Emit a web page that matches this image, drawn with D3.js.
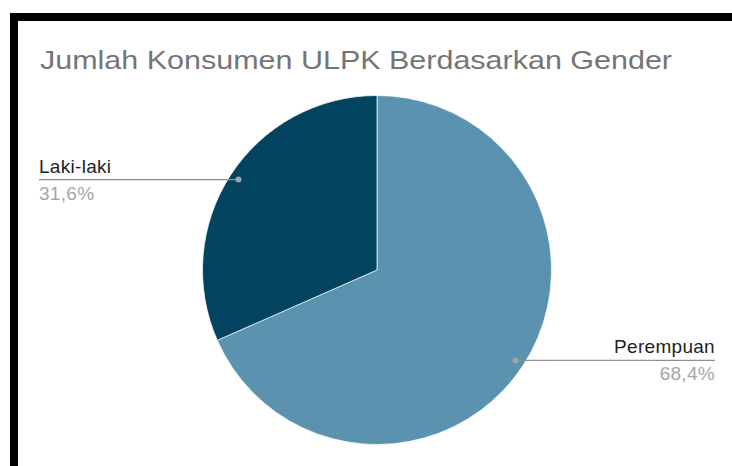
<!DOCTYPE html>
<html>
<head>
<meta charset="utf-8">
<script src="https://cdn.jsdelivr.net/npm/d3@7"></script>
<style>
  html, body { margin: 0; padding: 0; background: #fff; }
  svg { display: block; }
</style>
</head>
<body>
<svg id="chart" width="732" height="466"></svg>
<script>
const title = "Jumlah Konsumen ULPK Berdasarkan Gender";
const categories = ["Perempuan", "Laki-laki"];
const percentages = [68.4, 31.6];
const colors = ["#5a92b0", "#02445f"];

const W = 732, H = 466;
const FONT = "'Liberation Sans', Arial, sans-serif";
const svg = d3.select("#chart");

// frame (black border top and left)
svg.append("rect").attr("x", 10).attr("y", 13).attr("width", W - 10).attr("height", 8).attr("fill", "#000");
svg.append("rect").attr("x", 10).attr("y", 13).attr("width", 8).attr("height", H - 13).attr("fill", "#000");

svg.append("text")
  .attr("x", 40).attr("y", 69)
  .attr("font-family", FONT)
  .attr("font-size", 25.5)
  .attr("textLength", 632)
  .attr("lengthAdjust", "spacingAndGlyphs")
  .attr("fill", "#757575")
  .text(title);

const cx = 377, cy = 270, R = 174.5;
const data = categories.map((c, i) => ({ name: c, value: percentages[i], color: colors[i] }));
const pie = d3.pie().value(d => d.value).sort(null);
const arcs = pie(data);
const arc = d3.arc().innerRadius(0).outerRadius(R);
const dotArc = d3.arc().innerRadius(R * 0.948).outerRadius(R * 0.948);

const g = svg.append("g").attr("transform", `translate(${cx},${cy})`);
g.selectAll("path.slice").data(arcs).enter().append("path")
  .attr("class", "slice")
  .attr("d", arc)
  .attr("fill", d => d.data.color)
  .attr("stroke", "#ffffff")
  .attr("stroke-width", 0.7);

const fmt = v => v.toFixed(1).replace(".", ",") + "%";

arcs.forEach(a => {
  const [px, py] = dotArc.centroid(a);
  const right = px > 0;
  const lx = right ? 715 - cx : 39 - cx;
  g.append("line")
    .attr("x1", px).attr("y1", py)
    .attr("x2", lx).attr("y2", py)
    .attr("stroke", "#8e8e8e").attr("stroke-width", 1.3);
  g.append("circle").attr("cx", px).attr("cy", py).attr("r", 3).attr("fill", "#a3a3a3");
  g.append("text")
    .attr("x", lx).attr("y", py - 7)
    .attr("text-anchor", right ? "end" : "start")
    .attr("font-family", FONT)
    .attr("font-size", 19)
    .attr("letter-spacing", 0.3)
    .attr("fill", "#222")
    .text(a.data.name);
  g.append("text")
    .attr("x", lx).attr("y", py + 20)
    .attr("text-anchor", right ? "end" : "start")
    .attr("font-family", FONT)
    .attr("font-size", 19)
    .attr("letter-spacing", 0.3)
    .attr("fill", "#a6a6a6")
    .text(fmt(a.data.value));
});
</script>
</body>
</html>
